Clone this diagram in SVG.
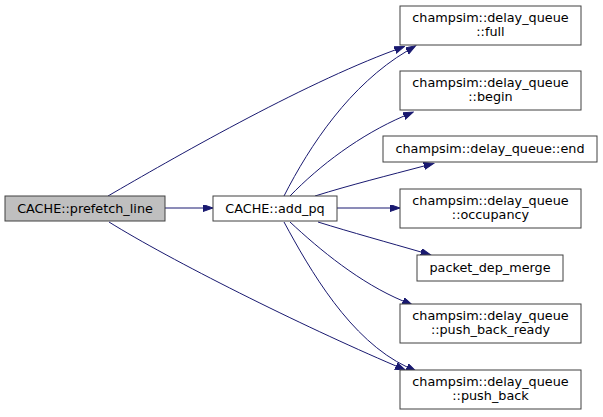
<svg xmlns="http://www.w3.org/2000/svg" width="603" height="417" viewBox="0 0 603 417">
<style>
.n rect{fill:#ffffff;stroke:#404040;stroke-width:1}
.n.cur rect{fill:#bfbfbf}
.n text{font-family:"DejaVu Sans",sans-serif;font-size:12.8px;fill:#000;text-anchor:middle}
.e path{fill:none;stroke:#191970;stroke-width:1}
</style>
<defs>
<marker id="ah" markerUnits="userSpaceOnUse" markerWidth="11" markerHeight="8" refX="0" refY="3.5" orient="auto" viewBox="0 0 11 8">
<path d="M0,0 L10,3.5 L0,7 z" fill="#191970" stroke="#191970" stroke-width="1"/>
</marker>
</defs>
<g id="edges" class="e">
<path marker-end="url(#ah)" d="M165,208 L203,208"/>
<path marker-end="url(#ah)" d="M108,196 C170,160 300,85 395,50"/>
<path marker-end="url(#ah)" d="M109,222 C170,260 300,325 396,366"/>
<path marker-end="url(#ah)" d="M284,196 C310,145 350,85 407,51"/>
<path marker-end="url(#ah)" d="M290,196 C320,165 360,135 404,116"/>
<path marker-end="url(#ah)" d="M315,196 C350,185 390,175 424,166"/>
<path marker-end="url(#ah)" d="M337,208 L390,208"/>
<path marker-end="url(#ah)" d="M318,222 C350,232 390,243 421,252"/>
<path marker-end="url(#ah)" d="M290,222 C320,250 360,283 403,301"/>
<path marker-end="url(#ah)" d="M284,222 C310,270 350,340 407,367"/>
</g>
<g id="node-prefetch_line" class="n cur">
<rect x="5" y="196" width="160" height="25"/>
<text x="85" y="213">CACHE::prefetch_line</text>
</g>
<g id="node-add_pq" class="n">
<rect x="213" y="196" width="124" height="25"/>
<text x="275" y="213">CACHE::add_pq</text>
</g>
<g id="node-full" class="n">
<rect x="400" y="6" width="181" height="39"/>
<text x="490.5" y="22">champsim::delay_queue</text>
<text x="490.5" y="36">::full</text>
</g>
<g id="node-begin" class="n">
<rect x="400" y="71" width="181" height="39"/>
<text x="490.5" y="87">champsim::delay_queue</text>
<text x="490.5" y="101">::begin</text>
</g>
<g id="node-end" class="n">
<rect x="383" y="136" width="214" height="26"/>
<text x="490" y="153">champsim::delay_queue::end</text>
</g>
<g id="node-occupancy" class="n">
<rect x="400" y="189" width="181" height="39"/>
<text x="490.5" y="205">champsim::delay_queue</text>
<text x="490.5" y="219">::occupancy</text>
</g>
<g id="node-packet_dep_merge" class="n">
<rect x="417" y="255" width="146" height="26"/>
<text x="490" y="272">packet_dep_merge</text>
</g>
<g id="node-push_back_ready" class="n">
<rect x="400" y="304" width="181" height="39"/>
<text x="490.5" y="320">champsim::delay_queue</text>
<text x="490.5" y="334">::push_back_ready</text>
</g>
<g id="node-push_back" class="n">
<rect x="400" y="370" width="181" height="39"/>
<text x="490.5" y="386">champsim::delay_queue</text>
<text x="490.5" y="400">::push_back</text>
</g>
</svg>
